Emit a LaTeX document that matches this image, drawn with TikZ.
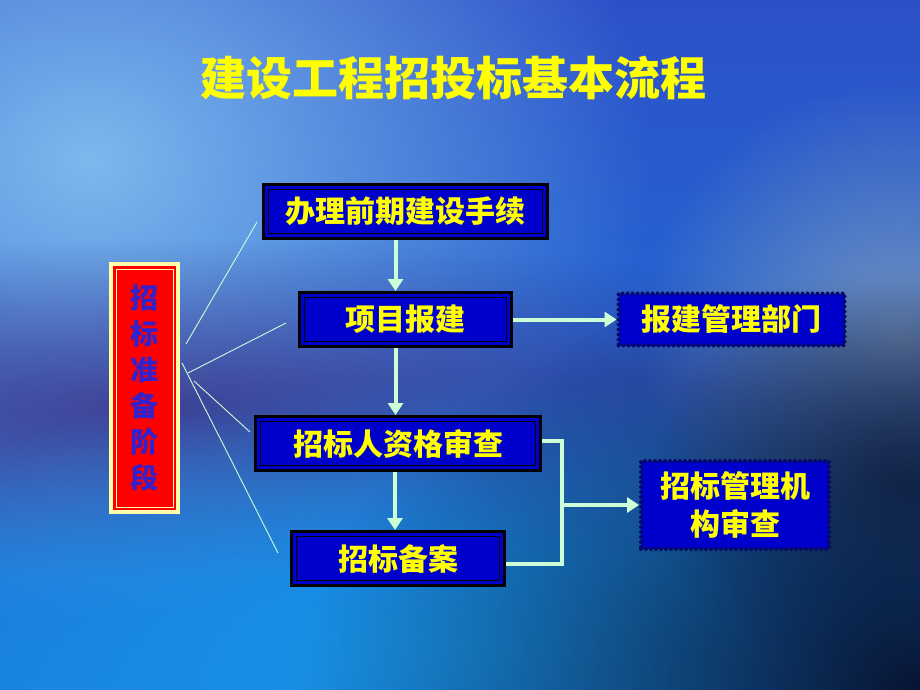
\documentclass[tikz,border=0pt]{standalone}
\usepackage{fontspec}
\newfontfamily\hei{Noto Sans CJK SC}
\usetikzlibrary{arrows.meta,fadings}
\definecolor{boxblue}{RGB}{0,0,204}
\definecolor{ttlyellow}{RGB}{255,255,0}
\definecolor{mint}{RGB}{204,255,214}
\definecolor{cream}{RGB}{255,255,170}
\definecolor{stagetext}{RGB}{51,34,204}
\definecolor{dotblue}{RGB}{5,10,100}
\definecolor{bgtop}{RGB}{45,80,200}
\definecolor{bgmid}{RGB}{50,60,165}
\definecolor{bgbot}{RGB}{25,125,220}
\definecolor{bglight}{RGB}{125,185,238}
\definecolor{bgcyan}{RGB}{25,150,232}
\definecolor{bgdark}{RGB}{8,20,50}
\definecolor{bggrey}{RGB}{115,145,190}
\definecolor{bgpurple}{RGB}{60,45,130}
\tikzfading[name=glow, inner color=transparent!0, outer color=transparent!100]
\begin{document}
\begin{tikzpicture}[x=1pt,y=-1pt,
  procbox/.style={draw=black, line width=3pt, fill=boxblue, text=ttlyellow,
    font=\hei\bfseries\fontsize{30}{34}\selectfont, minimum height=54, inner sep=0pt,
    path picture={\draw[black, line width=1pt]
      ([shift={(5,5)}]path picture bounding box.north west) rectangle
      ([shift={(-5,-5)}]path picture bounding box.south east);}},
  deptbox/.style={draw=dotblue, line width=4pt, dash pattern=on 0pt off 5pt,
    line cap=round, fill=boxblue, text=ttlyellow, align=center,
    font=\hei\bfseries\fontsize{30}{38}\selectfont, inner sep=0pt},
  stagebox/.style={draw=cream, line width=4pt, fill=red, text=stagetext,
    align=center, font=\hei\bfseries\fontsize{28}{36}\selectfont, inner sep=0pt,
    path picture={\draw[cream, line width=1pt]
      ([shift={(5,5)}]path picture bounding box.north west) rectangle
      ([shift={(-5,-5)}]path picture bounding box.south east);}},
  flow/.style={draw=mint, line width=4pt, -{Triangle[width=15pt,length=12pt]}},
  link/.style={draw=mint, line width=4pt},
  hair/.style={draw=mint, line width=0.9pt}]
\useasboundingbox (0,0) rectangle (920,690);
% background
\fill[top color=bgtop, middle color=bgmid, bottom color=bgbot] (0,0) rectangle (920,690);
\fill[bglight, path fading=glow] (90,160) ellipse (560 and 460);
\fill[bgpurple, path fading=glow, opacity=0.8] (180,410) ellipse (900 and 170);
\fill[bgcyan, path fading=glow] (470,650) ellipse (700 and 280);
\fill[bggrey, path fading=glow] (900,340) ellipse (260 and 260);
\fill[bgdark, path fading=glow, opacity=0.7] (910,480) ellipse (260 and 200);
\fill[bgdark, path fading=glow] (920,690) ellipse (620 and 420);
% title
\node[font=\hei\bfseries\fontsize{46}{50}\selectfont, text=ttlyellow] (ttl) at (453,78) {建设工程招投标基本流程};
% boxes
\node[procbox, minimum width=284] (qq) at (405.5,211.5) {办理前期建设手续};
\node[procbox, minimum width=212] (xm) at (405.5,319.5) {项目报建};
\node[procbox, minimum width=285] (zg) at (398,443.5) {招标人资格审查};
\node[procbox, minimum width=213] (ba) at (398,558.5) {招标备案};
\node[deptbox, minimum width=226, minimum height=52] (bj) at (731.5,319.5) {报建管理部门};
\node[deptbox, minimum width=188, minimum height=88] (gl) at (735,505) {招标管理机\\构审查};
\node[stagebox, minimum width=67, minimum height=248] (jd) at (144.5,388) {招\\标\\准\\备\\阶\\段};
% arrows
\draw[flow] ([xshift=-10]qq.south) -- ([xshift=-10]qq.south |- xm.north);
\draw[flow] ([xshift=-10]xm.south) -- ([xshift=-10]xm.south |- zg.north);
\draw[flow] ([xshift=-3]zg.south) -- ([xshift=-3]zg.south |- ba.north);
\draw[flow] (xm.east) -- (bj.west);
\coordinate (knee) at (562,505);
\draw[link] ([yshift=3]zg.east) -| (knee) |- ([yshift=-5]ba.east);
\draw[flow] (knee) -- (gl.west);
% thin lines
\coordinate (t1) at (257,222);
\coordinate (t2) at (286,323);
\coordinate (t3) at (250,432);
\coordinate (t4) at (278,553);
\draw[hair] ([shift={(6,-44)}]jd.east) -- (t1);
\draw[hair] ([shift={(8,-15)}]jd.east) -- (t2);
\draw[hair] ([shift={(14,-7)}]jd.east) -- (t3);
\draw[hair] ([shift={(2,-25)}]jd.east) -- (t4);
\end{tikzpicture}
\end{document}
